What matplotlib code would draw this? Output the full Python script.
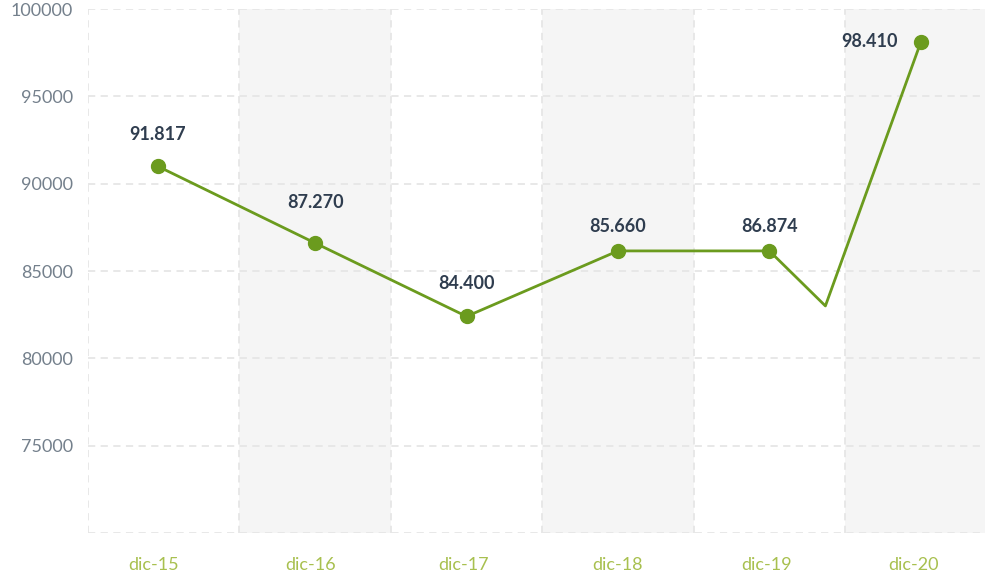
import matplotlib
matplotlib.use("Agg")
import matplotlib.pyplot as plt

categories = ["dic-15", "dic-16", "dic-17", "dic-18", "dic-19", "dic-20"]
# line vertices (category index position, value); one vertex without marker between dic-19 and dic-20
line_x = [-0.04, 1, 2, 3, 4, 4.37, 5]
line_y = [91000, 86600, 82400, 86150, 86150, 83000, 98100]
marker_x = [-0.04, 1, 2, 3, 4, 5]
marker_y = [91000, 86600, 82400, 86150, 86150, 98100]
labels = ["91.817", "87.270", "84.400", "85.660", "86.874", "98.410"]
label_offsets = [(0, 32), (0, 41), (0, 33), (0, 24), (0, 24), (-51, 1)]
y_ticks = [75000, 80000, 85000, 90000, 95000, 100000]

GREEN = "#6b9b1e"
LABEL = "#2f3d4f"

fig = plt.figure(figsize=(9.85, 5.76), dpi=100)
ax = fig.add_axes([88/985, 43/576, (996.5-88)/985, 524/576])
ax.set_xlim(-0.5, 5.5)
ax.set_ylim(70000, 100000)

for i in range(len(categories)):
    if i % 2 == 1:
        ax.axvspan(i - 0.5, i + 0.5, color="#f5f5f5", zorder=0, lw=0)

grid_kw = dict(color="#e6e6e6", lw=1.3, ls=(0, (4, 3)), zorder=1)
for i in range(len(categories) + 1):
    ax.axvline(i - 0.5, **grid_kw)
for v in [70000] + y_ticks:
    ax.axhline(v, **grid_kw)

ax.plot(line_x, line_y, color=GREEN, lw=2, zorder=3)
ax.plot(marker_x, marker_y, "o", color=GREEN, ms=10, zorder=4)

for x, y, t, (dx, dy) in zip(marker_x, marker_y, labels, label_offsets):
    ax.annotate(t, (x, y), xytext=(dx, dy), textcoords="offset pixels",
                ha="center", va="center", fontsize=13, fontweight="bold",
                family="Lato", color=LABEL, zorder=5)

for s in ax.spines.values():
    s.set_visible(False)
ax.set_xticks([-0.07, 0.97, 1.98, 3.0, 3.98, 4.95])
ax.set_xticklabels(categories, family="Lato", fontsize=13, color="#a8c04f")
ax.set_yticks(y_ticks)
ax.set_yticklabels([str(v) for v in y_ticks], family="Lato", fontsize=13, color="#74808c")
ax.tick_params(length=0)
ax.tick_params(axis="x", pad=17)
ax.tick_params(axis="y", pad=11)

fig.savefig("out.png", dpi=100)
